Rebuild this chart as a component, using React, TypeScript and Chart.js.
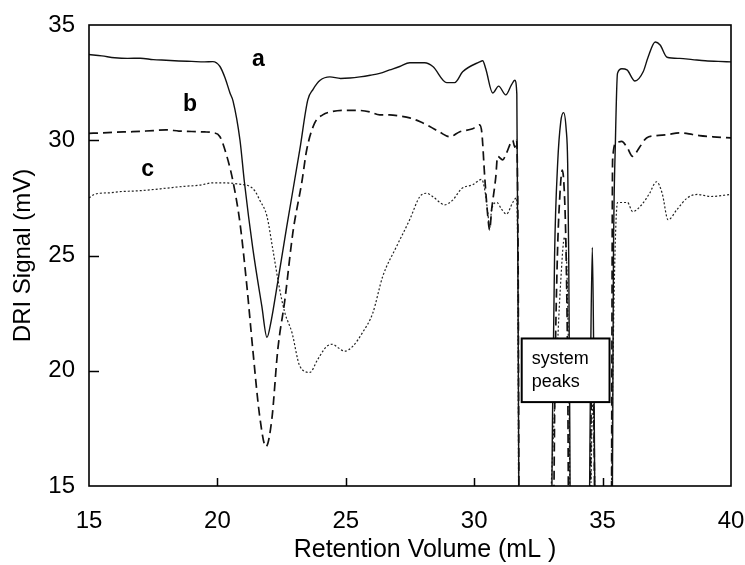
import React, { useEffect, useRef } from "react";
import { Chart, registerables } from "chart.js";

Chart.register(...registerables);

const FONT = "'Liberation Sans', Arial, Helvetica, sans-serif";

// Axis ticks
const xTickValues = [15, 20, 25, 30, 35, 40];
const yTickValues = [15, 20, 25, 30, 35];
const xInnerTicks = [20, 25, 30, 35];
const yInnerTicks = [20, 25, 30];
const xTitle = "Retention Volume (mL )";
const yTitle = "DRI Signal (mV)";

// Curve a (solid)
const aX = [15.0, 15.5, 16.0, 16.5, 17.0, 17.5, 18.0, 18.5, 19.0, 19.5, 19.82, 20.1, 20.3, 20.49, 20.61, 20.88, 21.05, 21.38, 21.73, 21.93, 22.1, 22.32, 22.7, 23.21, 23.52, 23.72, 24.0, 24.38, 24.8, 25.16, 25.55, 25.95, 26.32, 26.71, 27.1, 27.49, 28.07, 28.39, 28.93, 29.24, 29.55, 30.21, 30.33, 30.45, 30.72, 30.95, 31.23, 31.45, 31.58, 31.66, 31.72, 31.76, 32.98, 33.05, 33.13, 33.25, 33.37, 33.48, 33.58, 33.64, 33.68, 33.72, 33.76, 34.45, 34.53, 34.6, 34.66, 34.74, 35.36, 35.42, 35.5, 35.58, 35.75, 35.95, 36.26, 36.58, 36.77, 37.05, 37.24, 37.51, 38.0, 38.5, 39.0, 39.5, 40.0];
const aY = [33.72, 33.66, 33.58, 33.55, 33.56, 33.5, 33.47, 33.44, 33.42, 33.4, 33.41, 33.2, 32.7, 32.05, 31.7, 30.0, 28.2, 25.3, 22.8, 21.45, 22.2, 23.65, 26.25, 29.6, 31.75, 32.2, 32.6, 32.75, 32.68, 32.7, 32.75, 32.82, 32.9, 33.05, 33.2, 33.36, 33.36, 33.2, 32.5, 32.5, 32.97, 33.4, 33.45, 33.1, 32.05, 32.35, 31.97, 32.4, 32.6, 32.0, 20, 10, 10, 18, 25, 29, 30.8, 31.2, 30.5, 29, 25, 18, 10, 10, 20, 25.35, 20, 10, 10, 24.5, 30, 32.9, 33.1, 33.05, 32.57, 32.97, 33.6, 34.26, 34.13, 33.6, 33.55, 33.5, 33.45, 33.42, 33.4];

// Curve b (dashed)
const bX = [15.0, 15.5, 16.0, 16.7, 17.5, 18.0, 18.5, 19.0, 19.5, 19.82, 20.1, 20.37, 20.61, 20.88, 21.15, 21.38, 21.65, 21.89, 22.12, 22.35, 22.63, 22.94, 23.29, 23.48, 23.79, 24.1, 24.5, 25.04, 25.43, 25.93, 26.32, 26.71, 27.1, 27.49, 27.9, 28.27, 28.66, 29.05, 29.44, 29.94, 30.21, 30.3, 30.41, 30.53, 30.6, 30.68, 30.84, 30.91, 31.11, 31.26, 31.5, 31.58, 31.65, 31.71, 31.76, 33.05, 33.15, 33.24, 33.33, 33.43, 33.52, 33.58, 33.64, 33.7, 34.47, 34.55, 34.6, 34.66, 34.73, 35.33, 35.39, 35.54, 35.74, 35.95, 36.17, 36.44, 36.71, 37.1, 37.49, 38.0, 38.5, 38.77, 39.3, 40.0];
const bY = [30.3, 30.32, 30.35, 30.37, 30.42, 30.45, 30.4, 30.38, 30.36, 30.33, 30.15, 29.3, 28.2, 26.4, 23.65, 20.9, 18.0, 16.7, 17.9, 20.9, 23.1, 26.0, 28.2, 29.6, 30.75, 31.1, 31.25, 31.3, 31.3, 31.23, 31.1, 31.1, 31.05, 30.97, 30.8, 30.6, 30.35, 30.15, 30.37, 30.5, 30.67, 30.3, 28.4, 26.7, 26.1, 27.0, 28.4, 29.3, 29.15, 29.45, 30.0, 29.7, 30.0, 25, 10, 10, 20, 25, 27.5, 28.7, 27.5, 25, 20, 10, 10, 18, 20.5, 18, 10, 10, 29.15, 29.9, 29.95, 29.7, 29.3, 29.7, 30.1, 30.2, 30.24, 30.32, 30.25, 30.2, 30.15, 30.1];

// Curve c (dotted)
const cX = [15.0, 15.2, 15.43, 15.8, 16.2, 16.8, 17.4, 18.0, 18.7, 19.3, 19.82, 20.3, 20.8, 21.26, 21.46, 21.65, 21.93, 22.16, 22.43, 22.63, 22.9, 23.21, 23.6, 23.91, 24.26, 24.49, 24.7, 24.96, 25.27, 25.66, 26.05, 26.44, 26.98, 27.49, 27.88, 28.15, 28.39, 28.85, 29.16, 29.51, 29.94, 30.29, 30.41, 30.53, 30.6, 30.68, 30.88, 31.07, 31.26, 31.5, 31.65, 31.7, 31.75, 32.85, 33.0, 33.2, 33.35, 33.52, 33.62, 33.7, 33.76, 34.48, 34.56, 34.62, 34.68, 34.75, 35.28, 35.4, 35.48, 35.58, 35.97, 36.17, 36.52, 36.83, 37.1, 37.32, 37.55, 37.9, 38.3, 38.69, 39.2, 40.0];
const cY = [27.5, 27.65, 27.7, 27.72, 27.77, 27.8, 27.85, 27.92, 28.0, 28.05, 28.15, 28.15, 28.1, 28.0, 27.8, 27.4, 26.7, 25.25, 23.5, 22.5, 21.67, 20.2, 19.93, 20.5, 21.06, 21.15, 21.0, 20.85, 21.06, 21.67, 22.5, 24.1, 25.4, 26.56, 27.55, 27.7, 27.55, 27.2, 27.4, 27.9, 28.07, 28.3, 27.86, 26.86, 26.2, 27.0, 27.3, 27.0, 26.8, 27.3, 27.5, 24, 10, 10, 15, 20, 23.5, 25.8, 24, 18, 10, 10, 16, 19, 16, 10, 10, 20, 25, 27.3, 27.3, 26.9, 27.2, 27.7, 28.2, 27.7, 26.55, 27.0, 27.5, 27.65, 27.56, 27.65];

// Curve labels
const curveLabels = ["a", "b", "c"];
const curveLabelX = [21.6, 18.93, 17.28];
const curveLabelY = [33.48, 31.56, 28.72];

// Annotation box
const boxLines = ["system", "peaks"];
const boxXRange = [31.85, 35.27];
const boxYRange = [18.64, 21.4];

const toPoints = (xs: number[], ys: number[]) => xs.map((x, i) => ({ x, y: ys[i] }));

const decorPlugin = {
  id: "decor",
  afterDatasetsDraw(chart: any) {
    const { ctx, chartArea: ca, scales } = chart;
    const xs = scales.x;
    const ys = scales.y;
    ctx.save();
    ctx.strokeStyle = "#000";
    ctx.fillStyle = "#000";

    // inward ticks
    ctx.lineWidth = 1.5;
    ctx.beginPath();
    xInnerTicks.forEach((v) => {
      const px = Math.round(xs.getPixelForValue(v)) + 0.5;
      ctx.moveTo(px, ca.bottom);
      ctx.lineTo(px, ca.bottom - 8);
    });
    yInnerTicks.forEach((v) => {
      const py = Math.round(ys.getPixelForValue(v)) + 0.5;
      ctx.moveTo(ca.left, py);
      ctx.lineTo(ca.left + 10, py);
    });
    ctx.stroke();

    // annotation box
    const bl = xs.getPixelForValue(boxXRange[0]);
    const br = xs.getPixelForValue(boxXRange[1]);
    const bt = ys.getPixelForValue(boxYRange[1]);
    const bb = ys.getPixelForValue(boxYRange[0]);
    ctx.fillStyle = "#fff";
    ctx.fillRect(bl, bt, br - bl, bb - bt);
    ctx.lineWidth = 2;
    ctx.strokeRect(bl, bt, br - bl, bb - bt);
    ctx.fillStyle = "#000";
    ctx.font = `18px ${FONT}`;
    ctx.textAlign = "left";
    ctx.textBaseline = "alphabetic";
    boxLines.forEach((t, i) => {
      ctx.fillText(t, bl + 10, bt + 26 + i * 23);
    });

    // curve labels
    ctx.font = `bold 23px ${FONT}`;
    ctx.textAlign = "center";
    ctx.textBaseline = "middle";
    curveLabels.forEach((t, i) => {
      ctx.fillText(t, xs.getPixelForValue(curveLabelX[i]), ys.getPixelForValue(curveLabelY[i]));
    });

    // x axis title
    ctx.font = `25px ${FONT}`;
    ctx.textAlign = "center";
    ctx.textBaseline = "alphabetic";
    ctx.fillText(xTitle, 425, 557);

    // frame
    ctx.lineWidth = 1.6;
    ctx.strokeRect(ca.left, ca.top, ca.right - ca.left, ca.bottom - ca.top);
    ctx.restore();
  },
};

export default function App() {
  const ref = useRef<HTMLCanvasElement | null>(null);

  useEffect(() => {
    if (!ref.current) return;
    const chart = new Chart(ref.current, {
      type: "line",
      data: {
        datasets: [
          {
            label: "a",
            data: toPoints(aX, aY),
            borderColor: "#111",
            borderWidth: 1.4,
            pointRadius: 0,
            cubicInterpolationMode: "monotone",
          },
          {
            label: "b",
            data: toPoints(bX, bY),
            borderColor: "#111",
            borderWidth: 1.7,
            borderDash: [9, 5],
            pointRadius: 0,
            cubicInterpolationMode: "monotone",
          },
          {
            label: "c",
            data: toPoints(cX, cY),
            borderColor: "#222",
            borderWidth: 1.2,
            borderDash: [2, 2],
            pointRadius: 0,
            cubicInterpolationMode: "monotone",
          },
        ],
      },
      options: {
        responsive: false,
        animation: false,
        events: [],
        layout: { padding: { top: 25, right: 14, left: 0, bottom: 0 } },
        plugins: { legend: { display: false }, tooltip: { enabled: false } },
        scales: {
          x: {
            type: "linear",
            min: 15,
            max: 40,
            afterFit: (s: any) => {
              s.height = 79;
              s.paddingLeft = 0;
              s.paddingRight = 0;
              s.paddingTop = 0;
              s.paddingBottom = 0;
            },
            afterBuildTicks: (s: any) => {
              s.ticks = xTickValues.map((v) => ({ value: v }));
            },
            grid: { display: false, drawTicks: false },
            border: { display: false },
            ticks: {
              color: "#000",
              padding: 21,
              font: { family: FONT, size: 24 },
            },
            title: { display: false },
          },
          y: {
            type: "linear",
            min: 15,
            max: 35,
            afterFit: (s: any) => {
              s.width = 89;
              s.paddingLeft = 0;
              s.paddingRight = 0;
              s.paddingTop = 0;
              s.paddingBottom = 0;
            },
            afterBuildTicks: (s: any) => {
              s.ticks = yTickValues.map((v) => ({ value: v }));
            },
            grid: { display: false, drawTicks: false },
            border: { display: false },
            ticks: {
              color: "#000",
              padding: 14,
              font: { family: FONT, size: 24 },
            },
            title: {
              display: true,
              text: yTitle,
              color: "#000",
              font: { family: FONT, size: 24 },
              padding: { top: 9, bottom: 0 },
            },
          },
        },
      },
      plugins: [decorPlugin],
    } as any);
    return () => chart.destroy();
  }, []);

  return (
    <div style={{ position: "absolute", left: 0, top: 0, width: 745, height: 565, background: "#fff" }}>
      <canvas ref={ref} width={745} height={565} style={{ display: "block" }} />
    </div>
  );
}
